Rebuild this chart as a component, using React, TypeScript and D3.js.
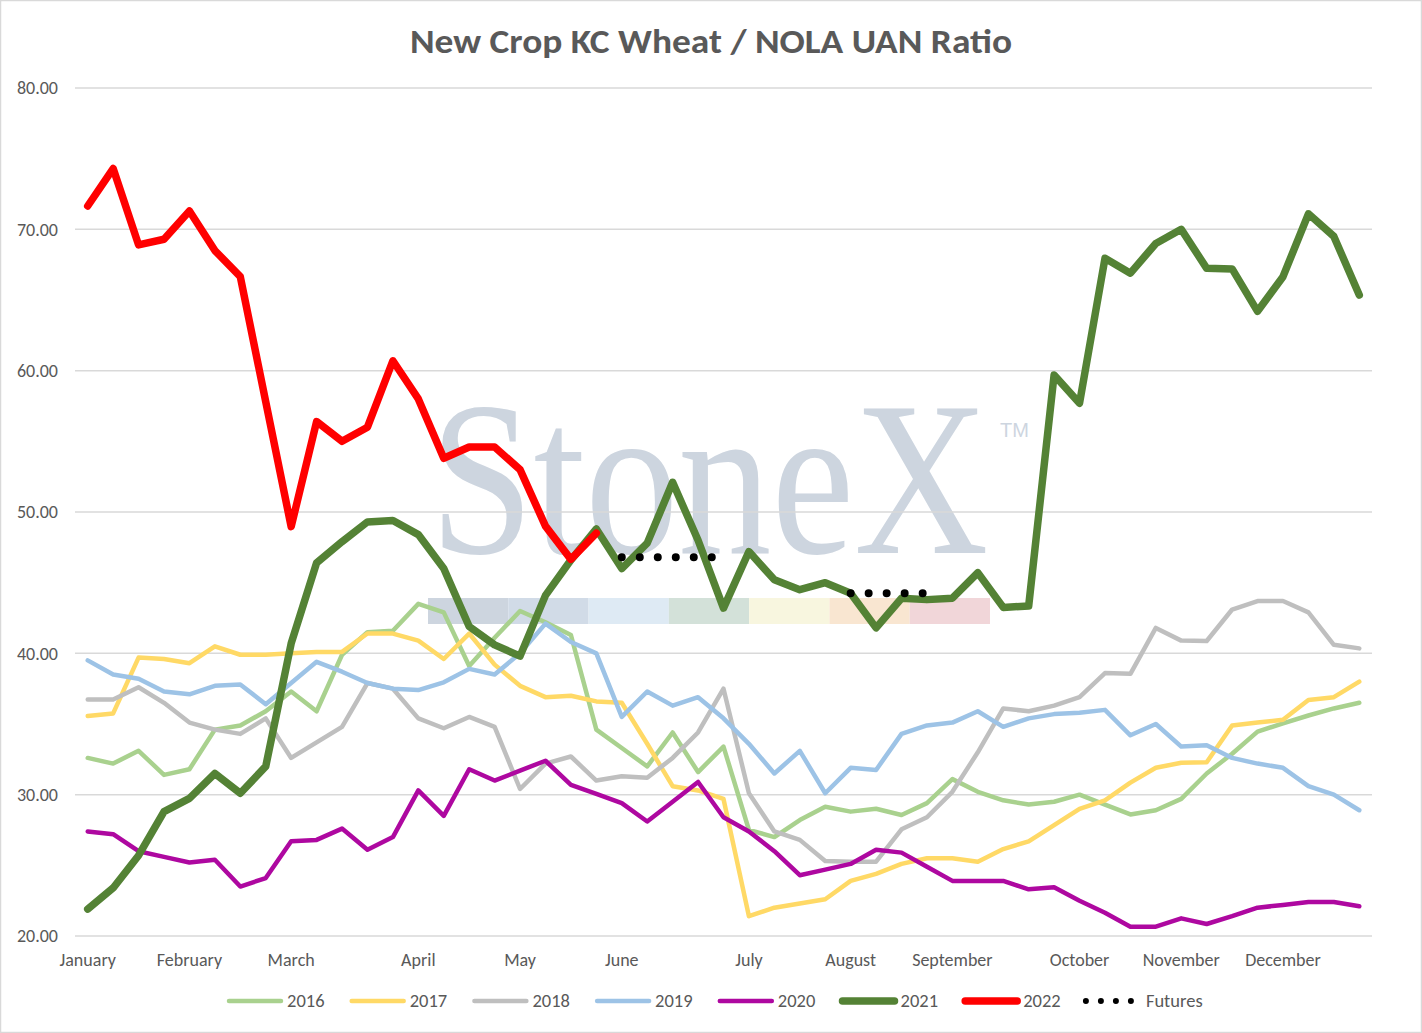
import React from "react";
import * as d3 from "d3";

// weekly categories, month name on the first week of each month
const weekLabels: string[] = [
  "January", "", "", "",
  "February", "", "", "",
  "March", "", "", "", "",
  "April", "", "", "",
  "May", "", "", "",
  "June", "", "", "", "",
  "July", "", "", "",
  "August", "", "", "",
  "September", "", "", "", "",
  "October", "", "", "",
  "November", "", "", "",
  "December", "", "", "",
];

const yTicks = [20, 30, 40, 50, 60, 70, 80];

const s2016 = [32.6, 32.2, 33.1, 31.4, 31.8, 34.6, 34.9, 35.9, 37.3, 35.9, 39.9, 41.5, 41.6, 43.5, 42.9, 39.1, 41.1, 43.0, 42.2, 41.3, 34.6, 33.3, 32.0, 34.4, 31.6, 33.4, 27.5, 27.0, 28.2, 29.15, 28.8, 29.0, 28.56, 29.4, 31.1, 30.2, 29.6, 29.3, 29.5, 30.0, 29.3, 28.6, 28.9, 29.7, 31.5, 32.9, 34.46, 35.05, 35.6, 36.1, 36.5];
const s2017 = [35.56, 35.75, 39.7, 39.6, 39.3, 40.5, 39.9, 39.9, 40.0, 40.1, 40.1, 41.4, 41.4, 40.9, 39.6, 41.4, 39.2, 37.7, 36.9, 37.0, 36.6, 36.5, 33.6, 30.6, 30.3, 29.7, 21.4, 22.0, 22.3, 22.6, 23.9, 24.4, 25.1, 25.5, 25.5, 25.26, 26.15, 26.7, 27.85, 29.0, 29.6, 30.85, 31.9, 32.26, 32.3, 34.9, 35.1, 35.3, 36.7, 36.9, 38.0];
const s2018 = [36.74, 36.74, 37.6, 36.5, 35.1, 34.6, 34.3, 35.4, 32.6, 33.7, 34.8, 37.9, 37.5, 35.4, 34.7, 35.5, 34.8, 30.4, 32.2, 32.7, 31.0, 31.3, 31.2, 32.6, 34.4, 37.5, 30.1, 27.4, 26.8, 25.3, 25.26, 25.26, 27.55, 28.4, 30.2, 33.0, 36.1, 35.9, 36.3, 36.9, 38.6, 38.55, 41.8, 40.9, 40.87, 43.1, 43.7, 43.7, 42.9, 40.6, 40.35];
const s2019 = [39.5, 38.5, 38.2, 37.3, 37.1, 37.7, 37.8, 36.4, 37.9, 39.4, 38.7, 37.9, 37.5, 37.4, 37.95, 38.9, 38.5, 40.0, 42.1, 40.8, 40.0, 35.5, 37.3, 36.3, 36.9, 35.4, 33.6, 31.5, 33.1, 30.1, 31.9, 31.75, 34.3, 34.9, 35.1, 35.9, 34.8, 35.4, 35.7, 35.8, 36.0, 34.2, 35.0, 33.4, 33.5, 32.6, 32.2, 31.9, 30.6, 30.0, 28.9];
const s2020 = [27.4, 27.2, 26.0, 25.6, 25.2, 25.4, 23.5, 24.1, 26.7, 26.8, 27.6, 26.1, 27.0, 30.3, 28.5, 31.8, 31.0, 31.7, 32.4, 30.7, 30.05, 29.4, 28.1, 29.5, 30.9, 28.4, 27.4, 26.0, 24.3, 24.7, 25.1, 26.1, 25.9, 24.9, 23.9, 23.9, 23.9, 23.3, 23.45, 22.5, 21.65, 20.66, 20.66, 21.25, 20.85, 21.4, 22.0, 22.2, 22.4, 22.4, 22.1];
const s2021 = [21.9, 23.4, 25.7, 28.8, 29.74, 31.5, 30.1, 32.0, 40.7, 46.4, 47.9, 49.3, 49.4, 48.4, 46.0, 41.9, 40.6, 39.8, 44.1, 46.6, 48.8, 46.0, 47.8, 52.1, 48.0, 43.2, 47.2, 45.2, 44.5, 45.0, 44.25, 41.8, 43.9, 43.8, 43.9, 45.7, 43.25, 43.35, 59.7, 57.7, 67.95, 66.9, 69.0, 70.0, 67.24, 67.2, 64.2, 66.65, 71.1, 69.5, 65.35];
const s2022: (number | null)[] = [71.65, 74.3, 68.9, 69.3, 71.3, 68.5, 66.65, 57.8, 48.96, 56.4, 55.0, 56.0, 60.7, 58.0, 53.8, 54.6, 54.6, 53.0, 49.0, 46.65, 48.5];
const futures: (number | null)[] = [
  null, null, null, null, null, null, null, null, null, null, null, null, null, null, null, null, null, null, null, null, null,
  46.8, 46.8, 46.8, 46.8, 46.8,
  null, null, null, null,
  44.25, 44.25, 44.25, 44.25,
];

const seriesNames = ["2016", "2017", "2018", "2019", "2020", "2021", "2022", "Futures"];
const seriesData = [s2016, s2017, s2018, s2019, s2020, s2021, s2022, futures];
const seriesColors = ["#A9D18E", "#FFD966", "#BFBFBF", "#9DC3E6", "#AE08A0", "#548235", "#FF0000", "#000000"];
const seriesWidths = [4.5, 4.5, 4.5, 4.5, 4.5, 7.5, 7.5, 8];

const bandColors = ["#CDD5DF", "#D1DBE7", "#DEEAF4", "#D3E1D9", "#F8F6DF", "#F9E6D1", "#F1D6D9"];

const W = 1422;
const H = 1033;
const FONT = "Carlito, Calibri, Lato, sans-serif";
const TEXT = "#595959";

const App: React.FC = () => {
  const x = d3
    .scalePoint<number>()
    .domain(d3.range(weekLabels.length))
    .range([75, 1372])
    .padding(0.5);
  const y = d3.scaleLinear().domain([20, 80]).range([936, 88]);

  const line = d3
    .line<number | null>()
    .defined((d) => d !== null && d !== undefined)
    .x((_, i) => x(i) as number)
    .y((d) => y(d as number));

  const bandX = d3.scaleLinear().domain([0, bandColors.length]).range([428, 990]);

  return (
    <svg
      width={W}
      height={H}
      style={{ position: "absolute", left: 0, top: 0, display: "block", background: "#fff" }}
      fontFamily={FONT}
    >
      <rect x={0.5} y={0.5} width={W - 1} height={H - 1} fill="#fff" stroke="#D9D9D9" strokeWidth={1.5} />

      <text
        x={410}
        y={53}
        fontSize={34}
        fontWeight="bold"
        fill={TEXT}
        textLength={602}
        lengthAdjust="spacingAndGlyphs"
      >
        New Crop KC Wheat / NOLA UAN Ratio
      </text>

      {/* watermark */}
      <g>
        <text
          transform="translate(430,553) scale(0.98,1.16)"
          fontFamily="'Liberation Serif', 'DejaVu Serif', serif"
          fontSize={190}
          fill="#CDD5DF"
        >
          StoneX
        </text>
        <text x={1000} y={437} fontFamily="'Liberation Sans', sans-serif" fontSize={20} fill="#CDD5DF">
          TM
        </text>
        {bandColors.map((c, i) => (
          <rect key={i} x={bandX(i)} y={598} width={bandX(i + 1) - bandX(i)} height={26} fill={c} />
        ))}
      </g>

      {/* gridlines + y labels */}
      {yTicks.map((t) => (
        <g key={t}>
          <line x1={75} x2={1372} y1={y(t)} y2={y(t)} stroke="#D9D9D9" strokeWidth={1.5} />
          <text x={58} y={y(t)} dy="0.35em" textAnchor="end" fontSize={18} fill={TEXT}>
            {t.toFixed(2)}
          </text>
        </g>
      ))}

      {/* x labels */}
      {weekLabels.map((lab, i) =>
        lab ? (
          <text key={i} x={x(i)} y={966} textAnchor="middle" fontSize={18} fill={TEXT}>
            {lab}
          </text>
        ) : null
      )}

      {/* series */}
      {seriesData.map((d, k) => {
        const isFut = seriesNames[k] === "Futures";
        return (
          <path
            key={seriesNames[k]}
            d={line(d) || ""}
            fill="none"
            stroke={seriesColors[k]}
            strokeWidth={seriesWidths[k]}
            strokeLinejoin="round"
            strokeLinecap="round"
            strokeDasharray={isFut ? "0 18" : undefined}
          />
        );
      })}

      {/* legend */}
      {seriesNames.map((n, k) => {
        const lx = 227 + k * 122.7;
        const isFut = n === "Futures";
        return (
          <g key={n} transform={`translate(${lx},1001)`}>
            <line
              x1={isFut ? 0 : 2}
              x2={54}
              y1={0}
              y2={0}
              stroke={seriesColors[k]}
              strokeWidth={isFut ? 6 : seriesWidths[k]}
              strokeLinecap="round"
              strokeDasharray={isFut ? "0 15" : undefined}
            />
            <text x={60} y={0} dy="0.35em" fontSize={18.5} fill={TEXT}>
              {n}
            </text>
          </g>
        );
      })}
    </svg>
  );
};

export default App;
